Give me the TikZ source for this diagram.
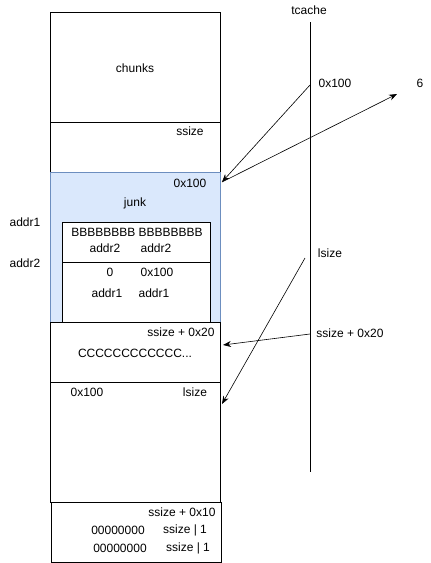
\documentclass[tikz,border=0pt]{standalone}
\usepackage{fontspec}
\setmainfont{Liberation Sans}
\usepackage{tikz}
\usetikzlibrary{arrows.meta}

\definecolor{junkfill}{HTML}{DAE8FC}
\definecolor{junkline}{HTML}{6C8EBF}

\begin{document}
\begin{tikzpicture}[x=1pt,y=-1pt,line width=0.8pt,
		lbl/.style={inner sep=0pt,font=\fontsize{12}{14}\selectfont},
		ptr/.style={-{Stealth[length=8pt,width=6pt]},line width=0.6pt}]
		\useasboundingbox (0,0) rectangle (431,563);

		% heap chunks
		\draw (50,12) rectangle (220,122);
		\draw (50,122) rectangle (220,172);
		\draw[fill=junkfill,draw=junkline] (50,172) rectangle (220,322);
		\draw[fill=white] (62,222) rectangle (210,322);
		\draw (62,262) -- (210,262);
		\draw (50,322) rectangle (220,382);
		\draw (50,382) rectangle (220,502);
		\draw (51,502) rectangle (221,562);

		% chunk texts
		\node[lbl] (chunks) at (135,68) {chunks};
		\node[lbl] (ssize) at (190,131) {ssize};
		\node[lbl] (junksz) at (190,183) {0x100};
		\node[lbl] (junk) at (135,203) {junk};
		\node[lbl] (bbb) at (137,232) {BBBBBBBB BBBBBBBB};
		\node[lbl] (fda) at (105,248) {addr2};
		\node[lbl] (fdb) at (156,248) {addr2};
		\node[lbl] (zero) at (110,272) {0};
		\node[lbl] (fsz) at (157,272) {0x100};
		\node[lbl] (bka) at (107,293) {addr1};
		\node[lbl] (bkb) at (154,293) {addr1};
		\node[lbl] (csz) at (181,332) {ssize + 0x20};
		\node[lbl] (ccc) at (135,353) {CCCCCCCCCCCC...};
		\node[lbl] (lprev) at (87,392) {0x100};
		\node[lbl] (lsz) at (195,392) {lsize};
		\node[lbl] (tsz) at (182,512) {ssize + 0x10};
		\node[lbl] (zra) at (118,530) {00000000};
		\node[lbl] (sra) at (185,530) {ssize | 1};
		\node[lbl] (zrb) at (120,548) {00000000};
		\node[lbl] (srb) at (188,548) {ssize | 1};

		% addresses
		\node[lbl] (addr1) at (25,222) {addr1};
		\node[lbl] (addr2) at (25,263) {addr2};

		% tcache
		\node[lbl] (tcache) at (309,10) {tcache};
		\coordinate (ttop) at (310,22);
		\coordinate (tbot) at (310,472);
		\draw (ttop) -- (tbot);
		\node[lbl] (tent) at (335,83) {0x100};
		\node[lbl] (cnt) at (420,83) {6};
		\node[lbl] (lent) at (330,253) {lsize};
		\node[lbl] (sent) at (350,333) {ssize + 0x20};

		% pointers
		\coordinate (t1) at (310,85);
		\coordinate (j1) at (222,182);
		\coordinate (c1) at (397,94);
		\coordinate (t2) at (305,258);
		\coordinate (l1) at (222,404);
		\coordinate (t3) at (310,334);
		\coordinate (s1) at (223,345);
		\draw[ptr] (t1) -- (j1);
		\draw[ptr] (j1) -- (c1);
		\draw[ptr] (t2) -- (l1);
		\draw[ptr] (t3) -- (s1);
	\end{tikzpicture}
\end{document}
